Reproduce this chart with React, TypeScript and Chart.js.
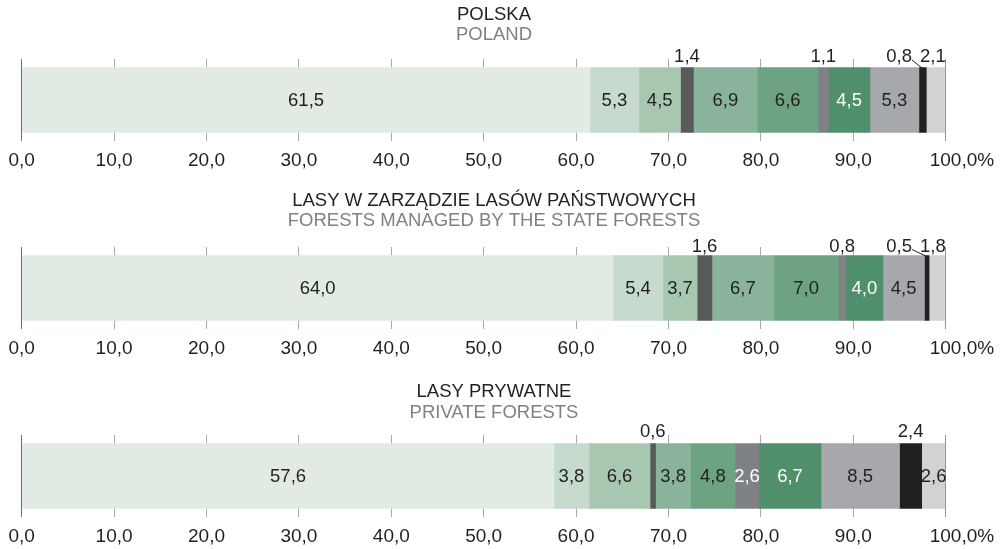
import React, { useEffect, useRef } from 'react';
import { Chart, registerables } from 'chart.js';

Chart.register(...registerables);

// ---------- data ----------
const segmentNames = ['I', 'II', 'III', 'IV', 'V', 'VI', 'VII', 'VIII', 'IX', 'X', 'XI'];
const polandValues = [61.5, 5.3, 4.5, 1.4, 6.9, 6.6, 1.1, 4.5, 5.3, 0.8, 2.1];
const stateForestValues = [64.0, 5.4, 3.7, 1.6, 6.7, 7.0, 0.8, 4.0, 4.5, 0.5, 1.8];
const privateForestValues = [57.6, 3.8, 6.6, 0.6, 3.8, 4.8, 2.6, 6.7, 8.5, 2.4, 2.6];
const tickValues = [0, 10, 20, 30, 40, 50, 60, 70, 80, 90, 100];

const panelTitles = ['POLSKA', 'LASY W ZARZĄDZIE LASÓW PAŃSTWOWYCH', 'LASY PRYWATNE'];
const panelSubtitles = ['POLAND', 'FORESTS MANAGED BY THE STATE FORESTS', 'PRIVATE FORESTS'];

// label placement per segment: inside bar, above bar, or above with a leader line
const polandPlacement = ['in', 'in', 'in', 'above', 'in', 'in', 'above', 'in', 'in', 'leader', 'above'];
const statePlacement = ['in', 'in', 'in', 'above', 'in', 'in', 'above', 'in', 'in', 'leader', 'above'];
const privatePlacement = ['in', 'in', 'in', 'above', 'in', 'in', 'in', 'in', 'in', 'above', 'in'];

// ---------- style ----------
const segmentColors = [
  '#e2eae4', '#c6dacd', '#a8c7b1', '#58595b', '#8ab39b', '#6da382',
  '#808184', '#4f8f6b', '#a7a8ab', '#231f20', '#d1d2d4',
];
const whiteTextSegments = [6, 7];
const FONT = '"Liberation Sans", Arial, Helvetica, sans-serif';
const TEXT = '#231f20';
const SUB = '#808184';
const LABEL_SIZE = 18.5;
const TICK_SIZE = 19;
const TITLE_SIZE = 18.5;

const panels = [
  { values: polandValues, placement: polandPlacement, title: panelTitles[0], sub: panelSubtitles[0], top: 0, titleBase: 19.5, aboveBase: 62 },
  { values: stateForestValues, placement: statePlacement, title: panelTitles[1], sub: panelSubtitles[1], top: 188, titleBase: 17.5, aboveBase: 63.5 },
  { values: privateForestValues, placement: privatePlacement, title: panelTitles[2], sub: panelSubtitles[2], top: 376, titleBase: 21, aboveBase: 60.5 },
];

const fmt = (v: number) => v.toFixed(1).replace('.', ',');

const panelPlugin = {
  id: 'panelDecor',
  afterDatasetsDraw(chart: any, _args: any, opts: any) {
    const { ctx, chartArea } = chart;
    const xScale = chart.scales.x;
    ctx.save();
    // edge lines at 0 and 100
    ctx.lineWidth = 1;
    const x0 = Math.round(xScale.getPixelForValue(0) - 0.5) + 0.5;
    const x100 = Math.round(xScale.getPixelForValue(100) - 0.5) + 0.5;
    ctx.strokeStyle = '#6d6e71';
    ctx.beginPath();
    ctx.moveTo(x0, chartArea.top);
    ctx.lineTo(x0, chartArea.bottom);
    ctx.stroke();
    ctx.strokeStyle = '#939598';
    ctx.beginPath();
    ctx.moveTo(x100, chartArea.top);
    ctx.lineTo(x100, chartArea.bottom);
    ctx.stroke();

    // last axis label (100,0%) sits right of its tick
    ctx.font = `${TICK_SIZE}px ${FONT}`;
    ctx.fillStyle = TEXT;
    ctx.textAlign = 'left';
    ctx.textBaseline = 'middle';
    ctx.fillText(fmt(100) + '%', xScale.getPixelForValue(100) - 16, chartArea.bottom + 8 + (TICK_SIZE * 1.2) / 2);

    ctx.font = `${LABEL_SIZE}px ${FONT}`;
    const placement: string[] = opts.placement;
    const items = chart.data.datasets.map((ds: any, i: number) => {
      const bar = chart.getDatasetMeta(i).data[0];
      return {
        cx: (bar.x + bar.base) / 2,
        cy: bar.y,
        top: bar.y - bar.height / 2,
        text: fmt(ds.data[0]),
      };
    });
    const lefts: Record<number, number> = {};
    // above labels
    items.forEach((it: any, i: number) => {
      if (placement[i] !== 'above') return;
      const w = ctx.measureText(it.text).width;
      const x = Math.min(it.cx, chartArea.right - w / 2);
      ctx.fillStyle = TEXT;
      ctx.textAlign = 'center';
      ctx.textBaseline = 'alphabetic';
      ctx.fillText(it.text, x, opts.aboveBase);
      lefts[i] = x - w / 2;
    });
    // leader labels
    items.forEach((it: any, i: number) => {
      if (placement[i] !== 'leader') return;
      const nextLeft = lefts[i + 1] !== undefined ? lefts[i + 1] : it.cx + 10;
      const right = nextLeft - 8;
      ctx.fillStyle = TEXT;
      ctx.textAlign = 'right';
      ctx.textBaseline = 'alphabetic';
      ctx.fillText(it.text, right, opts.aboveBase);
      ctx.strokeStyle = TEXT;
      ctx.lineWidth = 1;
      ctx.beginPath();
      ctx.moveTo(right, opts.aboveBase - 2);
      ctx.lineTo(it.cx, it.top + 1);
      ctx.stroke();
    });
    // inside labels
    items.forEach((it: any, i: number) => {
      if (placement[i] !== 'in') return;
      ctx.fillStyle = whiteTextSegments.includes(i) ? '#ffffff' : TEXT;
      ctx.textAlign = 'center';
      ctx.textBaseline = 'middle';
      ctx.fillText(it.text, it.cx, it.cy + 1);
    });
    ctx.restore();
  },
  afterDraw(chart: any, _args: any, opts: any) {
    const { ctx } = chart;
    ctx.save();
    ctx.font = `${TITLE_SIZE}px ${FONT}`;
    ctx.textAlign = 'center';
    ctx.textBaseline = 'alphabetic';
    ctx.fillStyle = TEXT;
    ctx.fillText(opts.title, 494, opts.titleBase);
    ctx.fillStyle = SUB;
    ctx.fillText(opts.sub, 494, opts.titleBase + 20.5);
    ctx.restore();
  },
};

function Panel({ cfg }: { cfg: any }) {
  const ref = useRef<HTMLCanvasElement | null>(null);
  useEffect(() => {
    if (!ref.current) return;
    const chart = new Chart(ref.current, {
      type: 'bar',
      data: {
        labels: [''],
        datasets: cfg.values.map((v: number, i: number) => ({
          label: segmentNames[i],
          data: [v],
          backgroundColor: segmentColors[i],
          borderWidth: 0,
          barThickness: 65,
        })),
      },
      options: {
        responsive: false,
        maintainAspectRatio: false,
        animation: false,
        devicePixelRatio: 1,
        indexAxis: 'y',
        layout: { padding: { left: 21.7, right: 56.3, top: 59, bottom: 0 } },
        plugins: {
          legend: { display: false },
          tooltip: { enabled: false },
          title: { display: false },
          panelDecor: {
            placement: cfg.placement,
            title: cfg.title,
            sub: cfg.sub,
            titleBase: cfg.titleBase,
            aboveBase: cfg.aboveBase,
          },
        } as any,
        scales: {
          x: {
            type: 'linear',
            stacked: true,
            min: 0,
            max: 100,
            afterBuildTicks: (axis: any) => {
              axis.ticks = tickValues.map((v) => ({ value: v }));
            },
            afterFit: (scale: any) => {
              scale.height = 32;
            },
            ticks: {
              autoSkip: false,
              maxRotation: 0,
              padding: 8,
              color: TEXT,
              font: { family: FONT, size: TICK_SIZE },
              callback: (v: any) => (Number(v) === 100 ? '' : fmt(Number(v))),
            },
            grid: {
              display: true,
              drawTicks: false,
              lineWidth: 1,
              color: (c: any) =>
                c.tick && (c.tick.value === 0 || c.tick.value === 100) ? 'rgba(0,0,0,0)' : '#a7a9ac',
            },
            border: { display: false },
          },
          y: { type: 'category', stacked: true, display: false },
        },
      },
      plugins: [panelPlugin],
    } as any);
    return () => chart.destroy();
  }, [cfg]);
  return (
    <canvas
      ref={ref}
      width={1002}
      height={173}
      style={{ position: 'absolute', left: 0, top: cfg.top, width: 1002, height: 173, display: 'block' }}
    />
  );
}

export default function App() {
  return (
    <div style={{ position: 'fixed', left: 0, top: 0, width: 1002, height: 549, background: '#ffffff', overflow: 'hidden' }}>
      {panels.map((p, i) => (
        <Panel key={i} cfg={p} />
      ))}
    </div>
  );
}
